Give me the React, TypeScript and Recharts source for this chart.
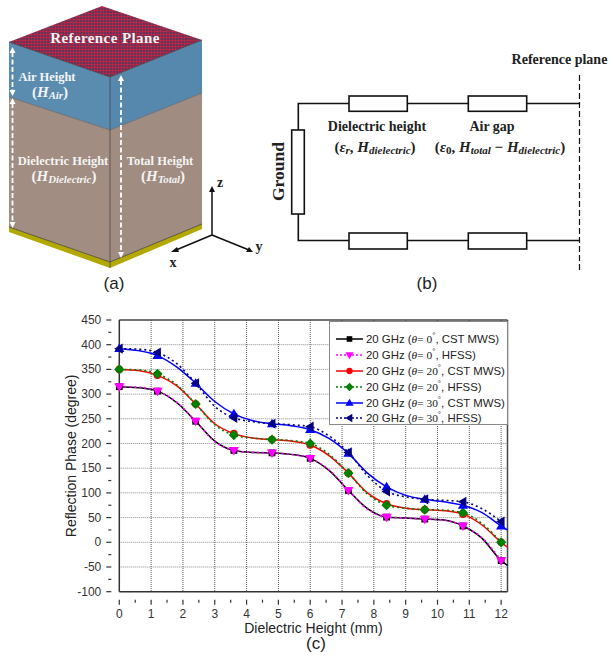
import { LineChart, Line, XAxis, YAxis, CartesianGrid, ReferenceLine, Legend, Label } from 'recharts';

const heights = [0, 0.6, 1.2, 1.8, 2.4, 3, 3.6, 4.2, 4.8, 5.4, 6, 6.6, 7.2, 7.8, 8.4, 9, 9.6, 10.2, 10.8, 11.4, 12, 12.2];

const cst0 = [315, 313, 306, 283, 245, 205, 186, 182, 181, 178, 170, 145, 105, 68, 51, 49, 47, 45, 33, 8, -37, -47];
const hfss0 = [315, 314, 306, 284, 245, 204, 186, 182, 181, 178, 170, 146, 105, 67, 51, 49, 47, 45, 33, 9, -37, null];
const cst20 = [350, 348, 338, 317, 280, 240, 220, 211, 208, 205, 197, 175, 140, 100, 78, 69, 66, 64, 57, 35, 0, -10];
const hfss20 = [350, 349, 341, 319, 280, 238, 217, 211, 208, 206, 200, 178, 140, 98, 75, 69, 66, 65, 60, 38, 0, null];
const cst30 = [392, 388, 378, 355, 322, 285, 260, 246, 240, 236, 228, 210, 180, 140, 112, 95, 87, 82, 75, 60, 33, 25];
const hfss30 = [392, 391, 384, 362, 322, 275, 252, 244, 240, 238, 234, 215, 182, 135, 103, 92, 87, 85, 82, 68, 42, null];

const xTicks = [0, 0.5, 1, 1.5, 2, 2.5, 3, 3.5, 4, 4.5, 5, 5.5, 6, 6.5, 7, 7.5, 8, 8.5, 9, 9.5, 10, 10.5, 11, 11.5, 12];
const yTicks = [-100, -75, -50, -25, 0, 25, 50, 75, 100, 125, 150, 175, 200, 225, 250, 275, 300, 325, 350, 375, 400, 425, 450];
const xGrid = [1, 2, 3, 4, 5, 6, 7, 8, 9, 10, 11, 12];
const yGrid = [-50, 0, 50, 100, 150, 200, 250, 300, 350, 400];

const data = heights.map((h, i) => ({
  h,
  cst0: cst0[i],
  hfss0: hfss0[i],
  cst20: cst20[i],
  hfss20: hfss20[i],
  cst30: cst30[i],
  hfss30: hfss30[i],
}));

const SERIES = [
  { key: 'cst0', angle: '0', tool: 'CST MWS', color: '#000000', dotted: false, marker: 'square' },
  { key: 'hfss0', angle: '0', tool: 'HFSS', color: '#ff00ff', dotted: true, marker: 'down' },
  { key: 'cst20', angle: '20', tool: 'CST MWS', color: '#ff0000', dotted: false, marker: 'circle' },
  { key: 'hfss20', angle: '20', tool: 'HFSS', color: '#008000', dotted: true, marker: 'diamond' },
  { key: 'cst30', angle: '30', tool: 'CST MWS', color: '#0000ff', dotted: false, marker: 'up' },
  { key: 'hfss30', angle: '30', tool: 'HFSS', color: '#000080', dotted: true, marker: 'left' },
];

const SANS = '"Liberation Sans", Arial, sans-serif';
const SERIF = '"Liberation Serif", serif';

function Marker({ kind, x, y, color, s = 1 }: { kind: string; x: number; y: number; color: string; s?: number }) {
  if (kind === 'square') return <rect x={x - 4 * s} y={y - 4 * s} width={8 * s} height={8 * s} fill={color} />;
  if (kind === 'circle') return <circle cx={x} cy={y} r={4.5 * s} fill={color} />;
  if (kind === 'diamond') return <polygon points={`${x},${y - 6 * s} ${x + 6 * s},${y} ${x},${y + 6 * s} ${x - 6 * s},${y}`} fill={color} />;
  if (kind === 'down') return <polygon points={`${x - 6 * s},${y - 4 * s} ${x + 6 * s},${y - 4 * s} ${x},${y + 6 * s}`} fill={color} />;
  if (kind === 'up') return <polygon points={`${x - 6 * s},${y + 4 * s} ${x + 6 * s},${y + 4 * s} ${x},${y - 6 * s}`} fill={color} />;
  return <polygon points={`${x + 4 * s},${y - 6 * s} ${x + 4 * s},${y + 6 * s} ${x - 6 * s},${y}`} fill={color} />;
}

// markers only every 1.2 mm, the in-between rows just shape the curve
const dotFor = (kind: string, color: string) => (props: any) => {
  const { cx, cy, index } = props;
  if (cy == null || index % 2 !== 0 || index > 20) return <g key={index} />;
  return <Marker key={index} kind={kind} x={cx} y={cy} color={color} s={0.85} />;
};

function XTick({ x, y, payload }: any) {
  const major = Number.isInteger(payload.value);
  return (
    <g>
      <line x1={x} x2={x} y1={y} y2={y + (major ? 5 : 3)} stroke="#333" strokeWidth={1.2} />
      {major && (
        <text x={x} y={y + 18} textAnchor="middle" fontSize={12} fontFamily={SANS} fill="#333">
          {payload.value}
        </text>
      )}
    </g>
  );
}

function YTick({ x, y, payload }: any) {
  const major = payload.value % 50 === 0;
  return (
    <g>
      <line x1={x} x2={x - (major ? 5 : 3)} y1={y} y2={y} stroke="#333" strokeWidth={1.2} />
      {major && (
        <text x={x - 10} y={y + 4} textAnchor="end" fontSize={12} fontFamily={SANS} fill="#333">
          {payload.value}
        </text>
      )}
    </g>
  );
}

function LegendBox() {
  return (
    <div style={{ width: 179, height: 104, border: '1px solid #888', background: '#fff', boxSizing: 'border-box', padding: '9px 0 0 6px' }}>
      {SERIES.map(s => (
        <div key={s.key} style={{ display: 'flex', alignItems: 'center', height: 15.9, whiteSpace: 'nowrap', fontFamily: SANS, fontSize: 11.4, color: '#222' }}>
          <svg width={29} height={14} style={{ flex: 'none', marginRight: 1 }}>
            <line x1={0} x2={27} y1={7} y2={7} stroke={s.color} strokeWidth={1.5} strokeDasharray={s.dotted ? '2 2' : undefined} />
            <Marker kind={s.marker} x={13.5} y={7} color={s.color} s={0.7} />
          </svg>
          <span>
            20 GHz (<i style={{ fontFamily: SERIF }}>θ</i>
            <span style={{ fontFamily: SERIF }}>= {s.angle}</span>
            <sup style={{ fontSize: 8, lineHeight: 0 }}>°</sup>, {s.tool})
          </span>
        </div>
      ))}
    </div>
  );
}

function Arrow({ x, y1, y2 }: { x: number; y1: number; y2: number }) {
  return (
    <g stroke="#fff" fill="#fff">
      <line x1={x} x2={x} y1={y1 + 5} y2={y2 - 5} strokeWidth={1.8} strokeDasharray="5 2.5" />
      <polygon points={`${x},${y1} ${x + 3},${y1 + 6} ${x - 3},${y1 + 6}`} stroke="none" />
      <polygon points={`${x},${y2} ${x + 3},${y2 - 6} ${x - 3},${y2 - 6}`} stroke="none" />
    </g>
  );
}

function Math({ x, y, base, sub, fill, size = 15 }: { x: number; y: number; base: string; sub: string; fill: string; size?: number }) {
  return (
    <text x={x} y={y} textAnchor="middle" fontFamily={SERIF} fontWeight="bold" fontSize={size} fill={fill}>
      (<tspan fontStyle="italic">{base}</tspan>
      <tspan fontStyle="italic" fontSize={size * 0.72} dy={2}>{sub}</tspan>
      <tspan dy={-2}>)</tspan>
    </text>
  );
}

function CellDiagram() {
  const white = '#f4f4f4';
  return (
    <g>
      <defs>
        <pattern id="refDots" width={3} height={3} patternUnits="userSpaceOnUse">
          <rect width={3} height={3} fill="#3f3a62" />
          <circle cx={1.5} cy={1.5} r={1.2} fill="#d4203f" />
        </pattern>
      </defs>
      <polygon points="9,42 102,6 202,40 110,77" fill="url(#refDots)" />
      <polygon points="9,42 110,77 110,130 9,97" fill="#5a8cb0" />
      <polygon points="110,77 202,40 202,93 110,130" fill="#5688ad" />
      <polygon points="9,97 110,130 110,262 9,227" fill="#a18d81" />
      <polygon points="110,130 202,93 202,224 110,262" fill="#a08c80" />
      <polygon points="9,227 110,262 110,268 9,232" fill="#b3a802" />
      <polygon points="110,262 202,224 202,229 110,268" fill="#b3a802" />
      <line x1={110} x2={110} y1={77} y2={268} stroke="#444" strokeWidth={0.7} />
      <polyline points="9,42 110,77 202,40" fill="none" stroke="#333" strokeWidth={0.7} />
      <polyline points="9,97 110,130 202,93" fill="none" stroke="#444" strokeWidth={0.5} />
      <polyline points="9,227 110,262 202,224" fill="none" stroke="#333" strokeWidth={0.7} />
      <Arrow x={12.5} y1={47} y2={96} />
      <Arrow x={12.5} y1={98} y2={228} />
      <Arrow x={121} y1={75} y2={258} />
      <g fontFamily={SERIF} fontWeight="bold" textAnchor="middle" fill={white} fontSize={12.5}>
        <text x={105} y={43} fontSize={15} letterSpacing={0.4}>Reference Plane</text>
        <text x={47} y={80.5}>Air Height</text>
        <text x={63} y={164.5}>Dielectric Height</text>
        <text x={160} y={164.5}>Total Height</text>
      </g>
      <Math x={50} y={97} base="H" sub="Air" fill={white} />
      <Math x={64} y={181} base="H" sub="Dielectric" fill={white} />
      <Math x={163} y={181} base="H" sub="Total" fill={white} />
      <g stroke="#111" strokeWidth={1.5} fill="#111">
        <line x1={212} y1={235} x2={212} y2={190} />
        <line x1={212} y1={235} x2={176} y2={250} />
        <line x1={212} y1={235} x2={249} y2={250} />
        <polygon points="212,186 209,192 215,192" stroke="none" />
        <polygon points="171,252 177,247 179,252" stroke="none" />
        <polygon points="253,252 246,252 249,247" stroke="none" />
      </g>
      <g fontFamily={SERIF} fontWeight="bold" fontSize={14} fill="#222" textAnchor="middle">
        <text x={220} y={187}>z</text>
        <text x={259} y={251}>y</text>
        <text x={173} y={267}>x</text>
      </g>
    </g>
  );
}

function CircuitDiagram() {
  const wire = { stroke: '#111', strokeWidth: 1.6, fill: 'none' };
  const box = { stroke: '#111', strokeWidth: 1.6, fill: '#fff' };
  return (
    <g>
      <polyline points="579,103.5 298.3,103.5 298.3,240.5 579,240.5" {...wire} />
      <rect x={291.7} y={130} width={12.6} height={84} {...box} />
      <rect x={349} y={96} width={58.3} height={15.3} {...box} />
      <rect x={468.3} y={96} width={58.4} height={15.3} {...box} />
      <rect x={349} y={233} width={58.3} height={16} {...box} />
      <rect x={468.3} y={233} width={58.4} height={16} {...box} />
      <line x1={579.5} x2={579.5} y1={75} y2={270} stroke="#111" strokeWidth={1.2} strokeDasharray="6 3" />
      <g fontFamily={SERIF} fontWeight="bold" fill="#222" textAnchor="middle">
        <text x={559.5} y={64} fontSize={14}>Reference plane</text>
        <text x={377} y={131} fontSize={14}>Dielectric height</text>
        <text x={492} y={131} fontSize={14}>Air gap</text>
        <text x={279} y={171.5} fontSize={17.5} transform="rotate(-90 279 171.5)" dy={5}>Ground</text>
      </g>
      <text x={375} y={152} textAnchor="middle" fontFamily={SERIF} fontWeight="bold" fontSize={15} fill="#222">
        (<tspan fontStyle="italic">ε</tspan><tspan fontStyle="italic" fontSize={11} dy={2}>r</tspan>
        <tspan dy={-2}>, </tspan><tspan fontStyle="italic">H</tspan>
        <tspan fontStyle="italic" fontSize={11} dy={2}>dielectric</tspan><tspan dy={-2}>)</tspan>
      </text>
      <text x={500} y={152} textAnchor="middle" fontFamily={SERIF} fontWeight="bold" fontSize={15} fill="#222">
        (<tspan fontStyle="italic">ε</tspan><tspan fontSize={11} dy={2}>0</tspan>
        <tspan dy={-2}>, </tspan><tspan fontStyle="italic">H</tspan>
        <tspan fontStyle="italic" fontSize={11} dy={2}>total</tspan>
        <tspan dy={-2}> − </tspan><tspan fontStyle="italic">H</tspan>
        <tspan fontStyle="italic" fontSize={11} dy={2}>dielectric</tspan><tspan dy={-2}>)</tspan>
      </text>
    </g>
  );
}

export default function App() {
  return (
    <div style={{ position: 'absolute', left: 0, top: 0, width: 610, height: 659, overflow: 'hidden', background: '#fff' }}>
      <LineChart
        width={610}
        height={659}
        data={data}
        margin={{ top: 320, right: 102.5, bottom: 27.3, left: 59.3 }}
      >
        <CartesianGrid horizontal={false} verticalValues={xGrid} stroke="#555" strokeDasharray="1 1" />
        <CartesianGrid vertical={false} horizontalValues={yGrid} stroke="#888" strokeDasharray="1 1" />
        <XAxis
          dataKey="h"
          type="number"
          domain={[0, 12.2]}
          ticks={xTicks}
          interval={0}
          height={40}
          tick={XTick}
          tickLine={false}
          axisLine={{ stroke: '#333', strokeWidth: 1.5 }}
        >
          <Label value="Dielectric Height (mm)" position="insideBottom" offset={-1} fontSize={14} fontFamily={SANS} fill="#222" />
        </XAxis>
        <YAxis
          type="number"
          domain={[-100, 450]}
          ticks={yTicks}
          interval={0}
          width={60}
          tick={YTick}
          tickLine={false}
          axisLine={{ stroke: '#333', strokeWidth: 1.5 }}
        >
          <Label value="Reflection Phase (degree)" angle={-90} position="insideLeft" offset={12} style={{ textAnchor: 'middle' }} fontSize={14} fontFamily={SANS} fill="#222" />
        </YAxis>
        <ReferenceLine y={450} stroke="#444" strokeWidth={1.5} />
        <ReferenceLine x={12.2} stroke="#444" strokeWidth={1.5} />
        {SERIES.map(s => (
          <Line
            key={s.key}
            dataKey={s.key}
            type="monotone"
            stroke={s.color}
            strokeWidth={s.dotted ? 1.6 : 1.5}
            strokeDasharray={s.dotted ? '2 3' : undefined}
            dot={dotFor(s.marker, s.color)}
            activeDot={false}
            connectNulls={false}
            isAnimationActive={false}
          />
        ))}
        <Legend
          content={LegendBox}
          layout="horizontal"
          verticalAlign="middle"
          wrapperStyle={{ left: 329, top: 321, width: 179, height: 104, bottom: 'auto' }}
        />
      </LineChart>
      <svg width={610} height={300} style={{ position: 'absolute', left: 0, top: 0 }}>
        <CellDiagram />
        <CircuitDiagram />
        <text x={114} y={289} textAnchor="middle" fontFamily={SANS} fontSize={17} fill="#222">(a)</text>
        <text x={427} y={289} textAnchor="middle" fontFamily={SANS} fontSize={17} fill="#222">(b)</text>
      </svg>
      <div style={{ position: 'absolute', left: 296, top: 634, width: 40, textAlign: 'center', fontFamily: SANS, fontSize: 17, color: '#222' }}>(c)</div>
    </div>
  );
}
